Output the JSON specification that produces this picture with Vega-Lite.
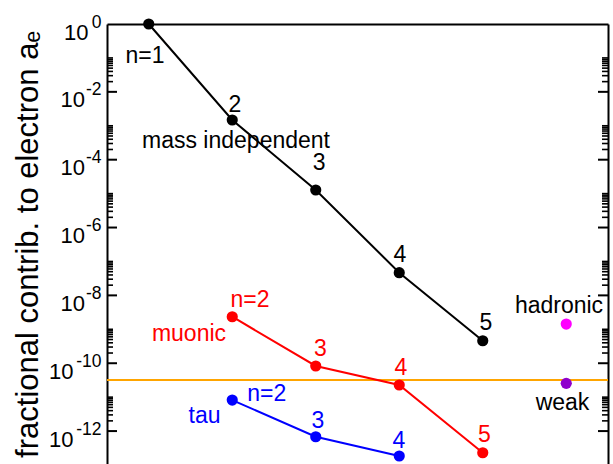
{
  "$schema": "https://vega.github.io/schema/vega-lite/v6.json",
  "autosize": {"type": "none"},
  "padding": {"left": 107, "top": 24, "right": 5, "bottom": 0},
  "width": 501,
  "height": 440,
  "background": "white",
  "config": {
    "view": {"stroke": null},
    "font": "Liberation Sans",
    "axis": {"grid": false, "labelFont": "Liberation Sans", "titleFont": "Liberation Sans", "labelColor": "black", "domainColor": "black"}
  },
  "datasets": {
    "series": [
      {"series": "mass independent", "n": 1, "v": 1},
      {"series": "mass independent", "n": 2, "v": 1.48e-3},
      {"series": "mass independent", "n": 3, "v": 1.28e-5},
      {"series": "mass independent", "n": 4, "v": 4.67e-8},
      {"series": "mass independent", "n": 5, "v": 4.6e-10},
      {"series": "muonic", "n": 2, "v": 2.35e-9},
      {"series": "muonic", "n": 3, "v": 8.3e-11},
      {"series": "muonic", "n": 4, "v": 2.28e-11},
      {"series": "muonic", "n": 5, "v": 2.3e-13},
      {"series": "tau", "n": 2, "v": 8.2e-12},
      {"series": "tau", "n": 3, "v": 6.8e-13},
      {"series": "tau", "n": 4, "v": 1.84e-13}
    ],
    "extra": [
      {"series": "hadronic", "n": 6, "v": 1.43e-9},
      {"series": "weak", "n": 6, "v": 2.55e-11}
    ],
    "ref": [{"v": 3.2e-11}],
    "majorticks": [
      {"edge": 0.5, "t": 1e-2}, {"edge": 0.5, "t": 1e-4}, {"edge": 0.5, "t": 1e-6}, {"edge": 0.5, "t": 1e-8}, {"edge": 0.5, "t": 1e-10}, {"edge": 0.5, "t": 1e-12},
      {"edge": 6.5, "t": 1e-2}, {"edge": 6.5, "t": 1e-4}, {"edge": 6.5, "t": 1e-6}, {"edge": 6.5, "t": 1e-8}, {"edge": 6.5, "t": 1e-10}, {"edge": 6.5, "t": 1e-12}
    ],
    "minorticks": [
      {"edge": 0.5, "t": 1e-1}, {"edge": 0.5, "t": 9e-2}, {"edge": 0.5, "t": 8e-2}, {"edge": 0.5, "t": 7e-2}, {"edge": 0.5, "t": 6e-2}, {"edge": 0.5, "t": 5e-2}, {"edge": 0.5, "t": 4e-2}, {"edge": 0.5, "t": 3e-2}, {"edge": 0.5, "t": 2e-2},
      {"edge": 0.5, "t": 1e-3}, {"edge": 0.5, "t": 9e-4}, {"edge": 0.5, "t": 8e-4}, {"edge": 0.5, "t": 7e-4}, {"edge": 0.5, "t": 6e-4}, {"edge": 0.5, "t": 5e-4}, {"edge": 0.5, "t": 4e-4}, {"edge": 0.5, "t": 3e-4}, {"edge": 0.5, "t": 2e-4},
      {"edge": 0.5, "t": 1e-5}, {"edge": 0.5, "t": 9e-6}, {"edge": 0.5, "t": 8e-6}, {"edge": 0.5, "t": 7e-6}, {"edge": 0.5, "t": 6e-6}, {"edge": 0.5, "t": 5e-6}, {"edge": 0.5, "t": 4e-6}, {"edge": 0.5, "t": 3e-6}, {"edge": 0.5, "t": 2e-6},
      {"edge": 0.5, "t": 1e-7}, {"edge": 0.5, "t": 9e-8}, {"edge": 0.5, "t": 8e-8}, {"edge": 0.5, "t": 7e-8}, {"edge": 0.5, "t": 6e-8}, {"edge": 0.5, "t": 5e-8}, {"edge": 0.5, "t": 4e-8}, {"edge": 0.5, "t": 3e-8}, {"edge": 0.5, "t": 2e-8},
      {"edge": 0.5, "t": 1e-9}, {"edge": 0.5, "t": 9e-10}, {"edge": 0.5, "t": 8e-10}, {"edge": 0.5, "t": 7e-10}, {"edge": 0.5, "t": 6e-10}, {"edge": 0.5, "t": 5e-10}, {"edge": 0.5, "t": 4e-10}, {"edge": 0.5, "t": 3e-10}, {"edge": 0.5, "t": 2e-10},
      {"edge": 0.5, "t": 1e-11}, {"edge": 0.5, "t": 9e-12}, {"edge": 0.5, "t": 8e-12}, {"edge": 0.5, "t": 7e-12}, {"edge": 0.5, "t": 6e-12}, {"edge": 0.5, "t": 5e-12}, {"edge": 0.5, "t": 4e-12}, {"edge": 0.5, "t": 3e-12}, {"edge": 0.5, "t": 2e-12},
      {"edge": 6.5, "t": 1e-1}, {"edge": 6.5, "t": 9e-2}, {"edge": 6.5, "t": 8e-2}, {"edge": 6.5, "t": 7e-2}, {"edge": 6.5, "t": 6e-2}, {"edge": 6.5, "t": 5e-2}, {"edge": 6.5, "t": 4e-2}, {"edge": 6.5, "t": 3e-2}, {"edge": 6.5, "t": 2e-2},
      {"edge": 6.5, "t": 1e-3}, {"edge": 6.5, "t": 9e-4}, {"edge": 6.5, "t": 8e-4}, {"edge": 6.5, "t": 7e-4}, {"edge": 6.5, "t": 6e-4}, {"edge": 6.5, "t": 5e-4}, {"edge": 6.5, "t": 4e-4}, {"edge": 6.5, "t": 3e-4}, {"edge": 6.5, "t": 2e-4},
      {"edge": 6.5, "t": 1e-5}, {"edge": 6.5, "t": 9e-6}, {"edge": 6.5, "t": 8e-6}, {"edge": 6.5, "t": 7e-6}, {"edge": 6.5, "t": 6e-6}, {"edge": 6.5, "t": 5e-6}, {"edge": 6.5, "t": 4e-6}, {"edge": 6.5, "t": 3e-6}, {"edge": 6.5, "t": 2e-6},
      {"edge": 6.5, "t": 1e-7}, {"edge": 6.5, "t": 9e-8}, {"edge": 6.5, "t": 8e-8}, {"edge": 6.5, "t": 7e-8}, {"edge": 6.5, "t": 6e-8}, {"edge": 6.5, "t": 5e-8}, {"edge": 6.5, "t": 4e-8}, {"edge": 6.5, "t": 3e-8}, {"edge": 6.5, "t": 2e-8},
      {"edge": 6.5, "t": 1e-9}, {"edge": 6.5, "t": 9e-10}, {"edge": 6.5, "t": 8e-10}, {"edge": 6.5, "t": 7e-10}, {"edge": 6.5, "t": 6e-10}, {"edge": 6.5, "t": 5e-10}, {"edge": 6.5, "t": 4e-10}, {"edge": 6.5, "t": 3e-10}, {"edge": 6.5, "t": 2e-10},
      {"edge": 6.5, "t": 1e-11}, {"edge": 6.5, "t": 9e-12}, {"edge": 6.5, "t": 8e-12}, {"edge": 6.5, "t": 7e-12}, {"edge": 6.5, "t": 6e-12}, {"edge": 6.5, "t": 5e-12}, {"edge": 6.5, "t": 4e-12}, {"edge": 6.5, "t": 3e-12}, {"edge": 6.5, "t": 2e-12}
    ],
    "numlabels": [
      {"series": "mass independent", "text": "n=1", "x": 0.955, "y": 0.0694},
      {"series": "mass independent", "text": "2", "x": 2.033, "y": 2.6e-3},
      {"series": "mass independent", "text": "3", "x": 3.04, "y": 4.97e-5},
      {"series": "mass independent", "text": "4", "x": 4.009, "y": 9.8e-8},
      {"series": "mass independent", "text": "5", "x": 5.039, "y": 9.5e-10},
      {"series": "muonic", "text": "n=2", "x": 2.213, "y": 4.63e-9},
      {"series": "muonic", "text": "3", "x": 3.057, "y": 1.63e-10},
      {"series": "muonic", "text": "4", "x": 4.021, "y": 4.49e-11},
      {"series": "muonic", "text": "5", "x": 5.021, "y": 4.85e-13},
      {"series": "tau", "text": "n=2", "x": 2.413, "y": 7.84e-12},
      {"series": "tau", "text": "3", "x": 3.027, "y": 1.2e-12},
      {"series": "tau", "text": "4", "x": 3.997, "y": 3.1e-13}
    ],
    "namelabels": [
      {"series": "mass independent", "text": "mass independent", "x": 2.045, "y": 2.16e-4},
      {"series": "muonic", "text": "muonic", "x": 1.482, "y": 4.6e-10},
      {"series": "tau", "text": "tau", "x": 1.668, "y": 1.76e-12},
      {"series": "other", "text": "hadronic", "x": 5.913, "y": 2.96e-9},
      {"series": "other", "text": "weak", "x": 5.955, "y": 4.17e-12}
    ]
  },
  "resolve": {"axis": {"x": "independent", "y": "independent"}},
  "layer": [
    {
      "data": {"name": "ref"},
      "mark": {"type": "rule", "color": "#FFA500", "strokeWidth": 2},
      "encoding": {
        "y": {
          "field": "v", "type": "quantitative",
          "scale": {"type": "log", "domain": [1.07e-13, 1], "nice": false},
          "axis": {
            "orient": "left",
            "values": [1, 1e-2, 1e-4, 1e-6, 1e-8, 1e-10, 1e-12],
            "labelExpr": "'10'",
            "ticks": false,
            "domain": true, "domainWidth": 2, "domainColor": "black",
            "labelFontSize": 22,
            "labelAlign": "right",
            "labelBaseline": "alphabetic",
            "labelOffset": 15,
            "labelOverlap": false,
            "labelPadding": {"condition": [{"test": "datum.value > 0.1", "value": 19}, {"test": "datum.value > 1e-9", "value": 22.5}], "value": 34},
            "title": "fractional contrib. to electron aₑ",
            "titleFontSize": 31,
            "titleFontWeight": "normal",
            "titleColor": "black",
            "titlePadding": 4
          }
        }
      }
    },
    {
      "data": {"name": "majorticks"},
      "mark": {"type": "tick", "orient": "horizontal", "color": "black", "thickness": 2, "clip": true, "opacity": 1},
      "encoding": {
        "x": {"field": "edge", "type": "quantitative", "axis": null},
        "y": {"field": "t", "type": "quantitative", "axis": null},
        "size": {"value": 20}
      }
    },
    {
      "data": {"name": "minorticks"},
      "mark": {"type": "tick", "orient": "horizontal", "color": "black", "thickness": 1.6, "clip": true, "opacity": 1},
      "encoding": {
        "x": {"field": "edge", "type": "quantitative", "axis": null},
        "y": {"field": "t", "type": "quantitative", "axis": null},
        "size": {"value": 12}
      }
    },
    {
      "data": {"name": "series"},
      "mark": {"type": "line", "strokeWidth": 2},
      "encoding": {
        "x": {
          "field": "n", "type": "quantitative",
          "scale": {"domain": [0.5, 6.5], "nice": false, "zero": false},
          "axis": {"orient": "top", "ticks": false, "labels": false, "domain": true, "domainWidth": 2, "domainColor": "black", "title": null}
        },
        "y": {
          "field": "v", "type": "quantitative",
          "axis": {
            "orient": "left",
            "values": [1, 1e-2, 1e-4, 1e-6, 1e-8, 1e-10, 1e-12],
            "labelExpr": "'' + round(log(datum.value) / LN10)",
            "ticks": false, "domain": false,
            "labelFontSize": 17.5,
            "labelAlign": "right",
            "labelBaseline": "alphabetic",
            "labelOffset": 3,
            "labelPadding": 6,
            "labelOverlap": false,
            "title": null
          }
        },
        "color": {
          "field": "series", "type": "nominal",
          "scale": {"domain": ["mass independent", "muonic", "tau", "hadronic", "weak", "other"], "range": ["#000000", "#FF0000", "#0000FF", "#FF00FF", "#8F00CC", "#000000"]},
          "legend": null
        },
        "order": {"field": "n"}
      }
    },
    {
      "data": {"name": "series"},
      "mark": {"type": "circle", "size": 125, "opacity": 1},
      "encoding": {
        "x": {"field": "n", "type": "quantitative", "axis": null},
        "y": {"field": "v", "type": "quantitative", "axis": null},
        "color": {"field": "series", "type": "nominal", "legend": null}
      }
    },
    {
      "data": {"name": "extra"},
      "mark": {"type": "circle", "size": 125, "opacity": 1},
      "encoding": {
        "x": {"field": "n", "type": "quantitative", "axis": null},
        "y": {"field": "v", "type": "quantitative", "axis": null},
        "color": {"field": "series", "type": "nominal", "legend": null}
      }
    },
    {
      "data": {"name": "numlabels"},
      "mark": {"type": "text", "fontSize": 23, "align": "center", "baseline": "alphabetic", "font": "Liberation Sans"},
      "encoding": {
        "x": {"field": "x", "type": "quantitative", "axis": null},
        "y": {
          "field": "y", "type": "quantitative",
          "axis": {
            "orient": "right",
            "labels": false, "ticks": false,
            "domain": true, "domainWidth": 2, "domainColor": "black",
            "title": null
          }
        },
        "text": {"field": "text"},
        "color": {"field": "series", "type": "nominal", "legend": null}
      }
    },
    {
      "data": {"name": "namelabels"},
      "mark": {"type": "text", "fontSize": 23, "align": "center", "baseline": "alphabetic", "font": "Liberation Sans"},
      "encoding": {
        "x": {"field": "x", "type": "quantitative", "axis": null},
        "y": {"field": "y", "type": "quantitative", "axis": null},
        "text": {"field": "text"},
        "color": {"field": "series", "type": "nominal", "legend": null}
      }
    }
  ]
}
